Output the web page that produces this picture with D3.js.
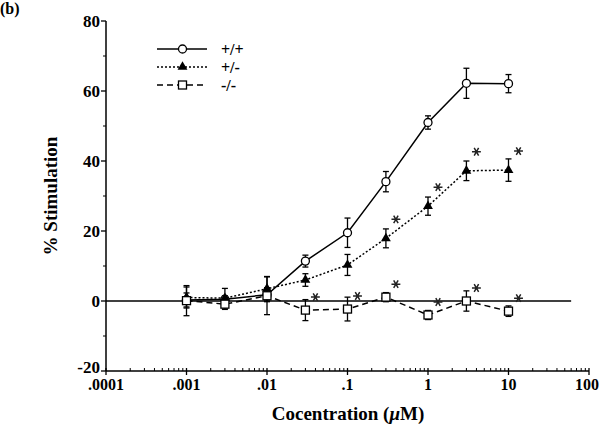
<!DOCTYPE html>
<html>
<head>
<meta charset="utf-8">
<script src="https://cdn.jsdelivr.net/npm/d3@7"></script>
<style>
  html, body { margin: 0; padding: 0; background: #fff; }
</style>
</head>
<body>
<svg id="chart" width="600" height="429"></svg>
<script>
// ---- data ----
const concentrations = [0.001, 0.003, 0.01, 0.03, 0.1, 0.3, 1, 3, 10];
const wildType    = [0.3, 0.5, 1.8, 11.4, 19.5, 34.1, 51.0, 62.2, 62.1];
const wildTypeErr = [2.0, 1.0, 2.0, 1.7, 4.2, 2.9, 1.9, 4.3, 2.6];
const hetero      = [1.0, 0.8, 3.5, 6.0, 10.3, 17.9, 27.1, 37.2, 37.4];
const heteroErr   = [3.0, 2.8, 3.5, 1.8, 3.0, 2.7, 2.6, 2.8, 3.2];
const knockout    = [0.1, -0.9, 1.5, -2.6, -2.3, 1.1, -4.0, 0.0, -2.9];
const knockoutErr = [4.3, 1.5, 5.4, 3.0, 3.4, 1.3, 1.3, 2.9, 1.5];
const heteroSig   = [false, false, false, false, false, true, true, true, true];
const knockoutSig = [false, false, false, true, true, true, true, true, true];
const seriesNames = ["+/+", "+/-", "-/-"];
const xTickValues = [0.0001, 0.001, 0.01, 0.1, 1, 10, 100];
const xTickLabels = [".0001", ".001", ".01", ".1", "1", "10", "100"];
const yTickValues = [-20, 0, 20, 40, 60, 80];
const yMinorValues = [-10, 10, 30, 50, 70];

const FONT = "'Liberation Serif', 'Times New Roman', Times, serif";
const W = 600;
const svg = d3.select("#chart");
const x = d3.scaleLog().domain([0.0001, 100]).range([106, 589]);
const y = d3.scaleLinear().domain([-20, 80]).range([371, 21]);

function txt(sel) {
  return sel.attr("font-family", FONT).attr("font-weight", "bold").attr("fill", "#000");
}

// axes
const xAxis = svg.append("g").attr("transform", `translate(0,${y(-20)})`);
xAxis.append("line").attr("x1", x(0.0001)).attr("x2", x(100)).attr("stroke", "#000").attr("stroke-width", 1.5);
const minorX = [];
for (let d = -4; d < 2; d++) for (let m = 2; m <= 9; m++) minorX.push(m * Math.pow(10, d));
xAxis.selectAll(".mnx").data(minorX).join("line")
  .attr("x1", d => x(d)).attr("x2", d => x(d)).attr("y1", 0).attr("y2", -3)
  .attr("stroke", "#000").attr("stroke-width", 1);
xAxis.selectAll(".mjx").data(xTickValues).join("line")
  .attr("x1", d => x(d)).attr("x2", d => x(d)).attr("y1", -3).attr("y2", 4)
  .attr("stroke", "#000").attr("stroke-width", 1.3);
const xl = txt(xAxis.selectAll(".lbx").data(xTickValues).join("text"))
  .attr("x", d => x(d)).attr("y", 19).attr("text-anchor", "middle")
  .attr("font-size", 16).text((d, i) => xTickLabels[i]);
// keep the last label inside the picture
xl.each(function(d) {
  const w = this.getComputedTextLength();
  if (x(d) + w / 2 > W - 1) d3.select(this).attr("x", W - 1 - w / 2);
});

const yAxis = svg.append("g").attr("transform", `translate(${x(0.0001)},0)`);
yAxis.append("line").attr("y1", y(-20)).attr("y2", y(80)).attr("stroke", "#000").attr("stroke-width", 1.5);
yAxis.selectAll(".mjy").data(yTickValues).join("line")
  .attr("x1", -5).attr("x2", 0).attr("y1", d => y(d)).attr("y2", d => y(d))
  .attr("stroke", "#000").attr("stroke-width", 1.3);
yAxis.selectAll(".mny").data(yMinorValues).join("line")
  .attr("x1", -3).attr("x2", 0).attr("y1", d => y(d)).attr("y2", d => y(d))
  .attr("stroke", "#000").attr("stroke-width", 1);
txt(yAxis.selectAll(".lby").data(yTickValues).join("text"))
  .attr("x", -6).attr("y", d => y(d) + (d === -20 ? 2 : 6)).attr("text-anchor", "end")
  .attr("font-size", 17).text(d => d);

// zero line
svg.append("line").attr("x1", x(0.0001)).attr("x2", x(60)).attr("y1", y(0)).attr("y2", y(0))
  .attr("stroke", "#000").attr("stroke-width", 1.5);

// titles
txt(svg.append("text")).attr("x", 0).attr("y", 14).attr("font-size", 16).text("(b)");
txt(svg.append("text")).attr("transform", `translate(57,196) rotate(-90)`)
  .attr("text-anchor", "middle").attr("font-size", 19).text("% Stimulation");
const xt = txt(svg.append("text")).attr("x", 348).attr("y", 420).attr("text-anchor", "middle").attr("font-size", 19);
xt.append("tspan").text("Cocentration (");
xt.append("tspan").attr("font-style", "italic").text("\u03BC");
xt.append("tspan").text("M)");

// series
const series = [
  { vals: wildType, err: wildTypeErr, dash: null, marker: "circle", sig: null },
  { vals: hetero, err: heteroErr, dash: "2,2", marker: "triangle", sig: heteroSig },
  { vals: knockout, err: knockoutErr, dash: "6,4", marker: "square", sig: knockoutSig }
];

function drawMarker(g, type, cx, cy) {
  if (type === "circle") {
    g.append("circle").attr("cx", cx).attr("cy", cy).attr("r", 4)
      .attr("fill", "#fff").attr("stroke", "#000").attr("stroke-width", 1.3);
  } else if (type === "triangle") {
    g.append("path").attr("d", d3.symbol(d3.symbolTriangle, 42)())
      .attr("transform", `translate(${cx},${cy})`).attr("fill", "#000");
  } else {
    g.append("rect").attr("x", cx - 4).attr("y", cy - 4).attr("width", 8).attr("height", 8)
      .attr("fill", "#fff").attr("stroke", "#000").attr("stroke-width", 1.3);
  }
}

const asterisk = d3.symbol(d3.symbolAsterisk, 55)();
const line = d3.line().x((d, i) => x(concentrations[i])).y(d => y(d));
series.forEach((s, si) => {
  const g = svg.append("g");
  g.append("path").attr("d", line(s.vals)).attr("fill", "none").attr("stroke", "#000")
    .attr("stroke-width", 1.5).attr("stroke-dasharray", s.dash);
  s.vals.forEach((v, i) => {
    const cx = x(concentrations[i]);
    const t = y(v + s.err[i]), b = y(v - s.err[i]);
    g.append("line").attr("x1", cx).attr("x2", cx).attr("y1", t).attr("y2", b).attr("stroke", "#000").attr("stroke-width", 1.3);
    [t, b].forEach(yy => g.append("line").attr("x1", cx - 3).attr("x2", cx + 3).attr("y1", yy).attr("y2", yy)
      .attr("stroke", "#000").attr("stroke-width", 1.3));
  });
  s.vals.forEach((v, i) => drawMarker(g, s.marker, x(concentrations[i]), y(v)));
  if (s.sig) {
    s.vals.forEach((v, i) => {
      if (!s.sig[i]) return;
      g.append("path").attr("d", asterisk)
        .attr("transform", `translate(${x(concentrations[i]) + 10},${y(v) - (si === 1 ? 19 : 13)}) rotate(90)`)
        .attr("fill", "none").attr("stroke", "#222").attr("stroke-width", 1.5);
    });
  }
});

// legend
const legend = svg.append("g");
series.forEach((s, i) => {
  const ly = 49 + i * 18;
  legend.append("line").attr("x1", 157).attr("x2", 207).attr("y1", ly).attr("y2", ly)
    .attr("stroke", "#000").attr("stroke-width", 1.3).attr("stroke-dasharray", s.dash);
  drawMarker(legend, s.marker, 182.5, ly);
  txt(legend.append("text")).attr("x", 221).attr("y", ly + 6).attr("font-size", 16).text(seriesNames[i]);
});
</script>
</body>
</html>
